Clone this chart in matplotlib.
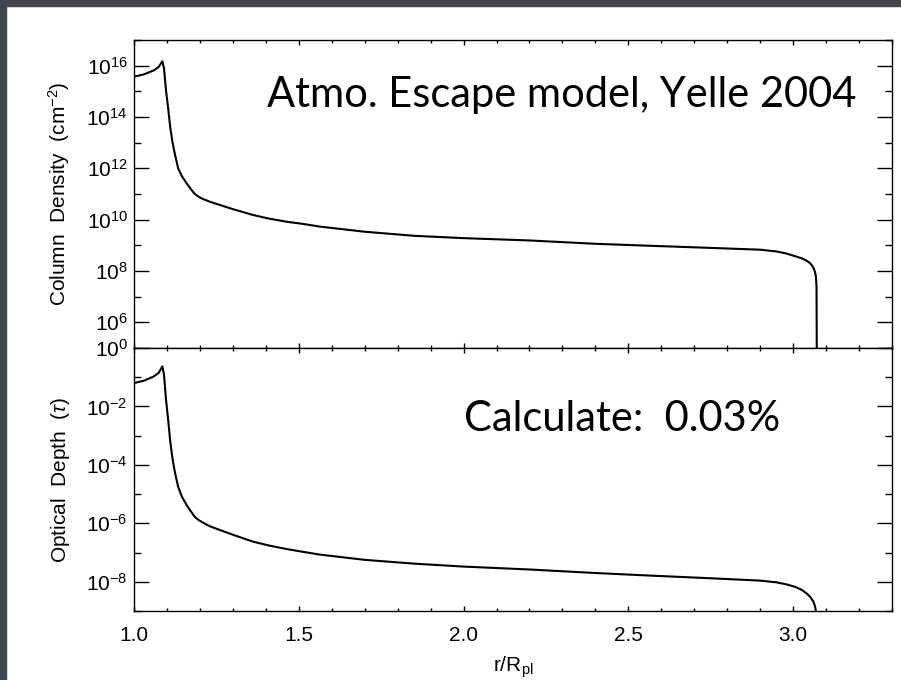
import numpy as np
import matplotlib
matplotlib.use("Agg")
import matplotlib.pyplot as plt
from matplotlib.ticker import FixedLocator, MultipleLocator, NullFormatter

plt.rcParams['font.family'] = ['Liberation Sans', 'DejaVu Sans']
plt.rcParams['mathtext.fontset'] = 'custom'
plt.rcParams['mathtext.rm'] = 'Liberation Sans'
plt.rcParams['mathtext.it'] = 'Liberation Sans:italic'

# radius in planet radii
r_col = [1.000, 1.030, 1.059, 1.075, 1.086, 1.091, 1.097, 1.104, 1.110, 1.117, 1.125,
         1.134, 1.145, 1.160, 1.172, 1.183, 1.195, 1.210, 1.230, 1.261, 1.300, 1.362,
         1.410, 1.463, 1.510, 1.564, 1.700, 1.851, 2.000, 2.200, 2.400, 2.550, 2.750,
         2.900, 2.950, 2.980, 3.005, 3.025, 3.040, 3.052, 3.061, 3.066, 3.069, 3.071,
         3.072]
# log10 column density (cm^-2)
logN = [15.57, 15.66, 15.81, 15.95, 16.17, 15.90, 15.05, 14.30, 13.60, 13.00, 12.50,
        12.00, 11.70, 11.41, 11.20, 11.02, 10.90, 10.80, 10.70, 10.57, 10.41, 10.18,
        10.04, 9.92, 9.84, 9.73, 9.53, 9.37, 9.28, 9.19, 9.06, 8.99, 8.90,
        8.83, 8.76, 8.68, 8.58, 8.50, 8.41, 8.30, 8.14, 7.98, 7.80, 7.40,
        4.00]
# log10 optical depth
logtau = [-1.20, -1.12, -0.98, -0.85, -0.63, -0.90, -1.75, -2.50, -3.20, -3.80, -4.30,
          -4.75, -5.08, -5.38, -5.58, -5.76, -5.88, -5.98, -6.10, -6.23, -6.39, -6.63,
          -6.76, -6.88, -6.97, -7.07, -7.25, -7.38, -7.48, -7.58, -7.70, -7.78, -7.88,
          -7.96, -8.02, -8.09, -8.17, -8.27, -8.39, -8.52, -8.67, -8.82, -9.00, -9.25,
          -12.0]

N_ticks = [1e6, 1e8, 1e10, 1e12, 1e14, 1e16]
N_labels = [r'$10^{6}$', r'$10^{8}$', r'$10^{10}$', r'$10^{12}$', r'$10^{14}$', r'$10^{16}$']
tau_ticks = [1e-8, 1e-6, 1e-4, 1e-2, 1e0]
tau_labels = [r'$10^{-8}$', r'$10^{-6}$', r'$10^{-4}$', r'$10^{-2}$', r'$10^{0}$']
x_ticks = [1.0, 1.5, 2.0, 2.5, 3.0]

fig = plt.figure(figsize=(9.01, 6.80), dpi=100)
fig.patch.set_facecolor('white')
# dark slide border along top and left
fig.patches.append(plt.Rectangle((0, 1 - 6/680.), 1, 6/680., transform=fig.transFigure,
                                 color='#41464f', zorder=0))
fig.patches.append(plt.Rectangle((0, 0), 6/901., 1, transform=fig.transFigure,
                                 color='#41464f', zorder=0))

ax1 = fig.add_axes([134/901., 1 - 348/680., 758/901., 308/680.])
ax2 = fig.add_axes([134/901., 1 - 611/680., 758/901., 263/680.])

ax1.semilogy(r_col, np.power(10.0, logN), color='black', linewidth=1.5)
ax2.semilogy(r_col, np.power(10.0, logtau), color='black', linewidth=1.5)

ax1.set_ylim(1e5, 1e17)
ax2.set_ylim(1e-9, 1e0)

for ax in [ax1, ax2]:
    ax.set_xlim(1.0, 3.3)
    ax.xaxis.set_major_locator(FixedLocator(x_ticks))
    ax.xaxis.set_minor_locator(MultipleLocator(0.1))
    ax.tick_params(axis='x', which='major', direction='in', length=3.6, width=1.0,
                   top=True, bottom=True, labelsize=15, pad=11)
    ax.tick_params(axis='x', which='minor', direction='in', length=2.0, width=1.0,
                   top=True, bottom=True)
    ax.tick_params(axis='y', which='major', direction='in', length=10.8, width=1.0,
                   left=True, right=True, labelsize=15, pad=4.5)
    ax.tick_params(axis='y', which='minor', direction='in', length=5.0, width=1.0,
                   left=True, right=True)
    for s in ax.spines.values():
        s.set_linewidth(1.0)

ax1.yaxis.set_major_locator(FixedLocator(N_ticks))
ax1.set_yticklabels(N_labels)
ax1.yaxis.set_minor_locator(FixedLocator([1e5, 1e7, 1e9, 1e11, 1e13, 1e15, 1e17]))
ax1.yaxis.set_minor_formatter(NullFormatter())
ax1.set_xticklabels([])

ax2.yaxis.set_major_locator(FixedLocator(tau_ticks))
ax2.set_yticklabels(tau_labels)
ax2.yaxis.set_minor_locator(FixedLocator([1e-9, 1e-7, 1e-5, 1e-3, 1e-1]))
ax2.yaxis.set_minor_formatter(NullFormatter())
ax2.set_xticklabels(['1.0', '1.5', '2.0', '2.5', '3.0'])

ax1.set_ylabel(r'Column  Density  (cm$^{-2}$)', fontsize=15)
ax2.set_ylabel(r'Optical  Depth  ($\tau$)', fontsize=15)
ax2.set_xlabel(r'r/R$_{\mathregular{pl}}$', fontsize=15, labelpad=7)
ax1.yaxis.set_label_coords(-0.082, 0.5)
ax2.yaxis.set_label_coords(-0.082, 0.5)

fig.text(562/901., 1 - 107/680., 'Atmo. Escape model, Yelle 2004', family='Lato',
         fontsize=30, ha='center', va='baseline')
fig.text(622/901., 1 - 431/680., 'Calculate:  0.03%', family='Lato',
         fontsize=30, ha='center', va='baseline')

fig.savefig('out.png', dpi=100, facecolor=fig.get_facecolor())
